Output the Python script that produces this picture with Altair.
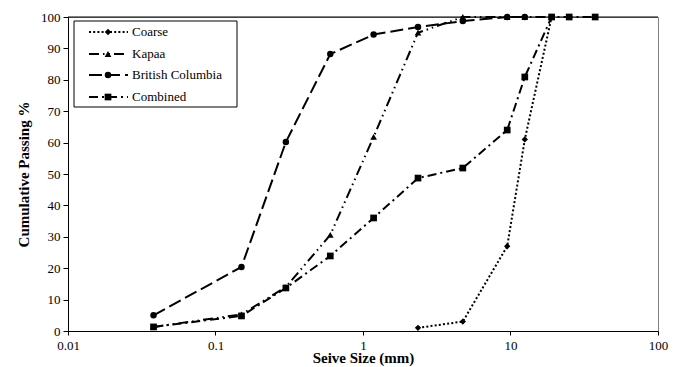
import altair as alt
import pandas as pd

series_names = ["Coarse", "Kapaa", "British Columbia", "Combined"]

coarse_x = [2.36, 4.75, 9.5, 12.5, 19]
coarse_y = [1, 3, 27, 61, 100]

kapaa_x = [0.038, 0.15, 0.3, 0.6, 1.18, 2.36, 4.75, 9.5, 12.5, 19]
kapaa_y = [1.3, 5.3, 14, 30.6, 61.8, 95, 100, 100, 100, 100]

bc_x = [0.038, 0.15, 0.3, 0.6, 1.18, 2.36, 4.75, 9.5, 12.5]
bc_y = [5, 20.4, 60.2, 88.2, 94.4, 96.8, 98.7, 100, 100]

comb_x = [0.038, 0.15, 0.3, 0.6, 1.18, 2.36, 4.75, 9.5, 12.5, 19, 25, 37.5]
comb_y = [1.3, 4.8, 13.7, 23.9, 36, 48.7, 51.9, 64, 80.9, 100, 100, 100]

x_ticks = [0.01, 0.1, 1, 10, 100]
y_ticks = [0, 10, 20, 30, 40, 50, 60, 70, 80, 90, 100]

FONT = "Liberation Serif, Times New Roman, serif"
W, H = 590, 314

styles = {
    "Coarse": dict(dash=[2, 2.2], shape="diamond", size=40),
    "Kapaa": dict(dash=[10, 4, 1.5, 4, 1.5, 4], shape="triangle-up", size=45),
    "British Columbia": dict(dash=[13, 5], shape="circle", size=42),
    "Combined": dict(dash=[9, 4, 2, 4], shape="square", size=45),
}
xs = {"Coarse": coarse_x, "Kapaa": kapaa_x, "British Columbia": bc_x, "Combined": comb_x}
ys = {"Coarse": coarse_y, "Kapaa": kapaa_y, "British Columbia": bc_y, "Combined": comb_y}

xscale = alt.Scale(type="log", domain=[0.01, 100])
yscale = alt.Scale(domain=[0, 100], nice=False)

xaxis = alt.Axis(values=x_ticks, format="~g", title="Seive Size (mm)", grid=False,
                 domainColor="black", tickColor="black", tickSize=4, labelPadding=4,
                 titleFont=FONT, titleFontSize=15, titleFontWeight="bold", titlePadding=-2,
                 labelFont=FONT, labelFontSize=13, labelColor="black", titleColor="black",
                 labelFlush=False)
yaxis = alt.Axis(values=y_ticks, title="Cumulative Passing %", grid=False,
                 domainColor="black", tickColor="black", tickSize=5, labelPadding=3,
                 titleFont=FONT, titleFontSize=15, titleFontWeight="bold", titlePadding=9,
                 labelFont=FONT, labelFontSize=13, labelColor="black", titleColor="black")

enc_x = alt.X("x:Q", scale=xscale, axis=xaxis)
enc_y = alt.Y("y:Q", scale=yscale, axis=yaxis)

layers = []
for name in series_names:
    df = pd.DataFrame({"x": xs[name], "y": ys[name], "s": name})
    st = styles[name]
    line = alt.Chart(df).mark_line(color="black", strokeWidth=2, strokeDash=st["dash"]).encode(
        x=enc_x, y=enc_y)
    pts = alt.Chart(df).mark_point(shape=st["shape"], size=st["size"], filled=True,
                                   color="black", opacity=1).encode(x=enc_x, y=enc_y)
    layers += [line, pts]

# top border (black)
top = alt.Chart(pd.DataFrame({"x": [1]})).mark_rule(color="black", strokeWidth=1).encode(
    x=alt.value(0), x2=alt.value(W), y=alt.value(0))
layers.append(top)

# legend box
leg_rows = [15, 37, 58, 80]
box = alt.Chart(pd.DataFrame({"a": [1]})).mark_rect(fill="white", stroke="black", strokeWidth=1).encode(
    x=alt.value(6), x2=alt.value(169), y=alt.value(4), y2=alt.value(90))
layers.append(box)
for name, ry in zip(series_names, leg_rows):
    st = styles[name]
    one = pd.DataFrame({"s": [name]})
    layers.append(alt.Chart(one).mark_rule(color="black", strokeWidth=2, strokeDash=st["dash"]).encode(
        x=alt.value(21), x2=alt.value(60), y=alt.value(ry)))
    layers.append(alt.Chart(one).mark_point(shape=st["shape"], size=st["size"], filled=True,
                                            color="black", opacity=1).encode(
        x=alt.value(40), y=alt.value(ry)))
    layers.append(alt.Chart(one).mark_text(align="left", baseline="middle", font=FONT,
                                           fontSize=13, color="black").encode(
        x=alt.value(64), y=alt.value(ry), text="s:N"))

chart = alt.layer(*layers).properties(
    width=W, height=H,
    padding={"left": 68, "top": 17, "right": 25, "bottom": 36},
    autosize=alt.AutoSizeParams(type="none"),
    background="white",
).configure_view(stroke="#808080", strokeWidth=1)

chart.save("out.html", embed_options={"renderer": "svg", "actions": False})
